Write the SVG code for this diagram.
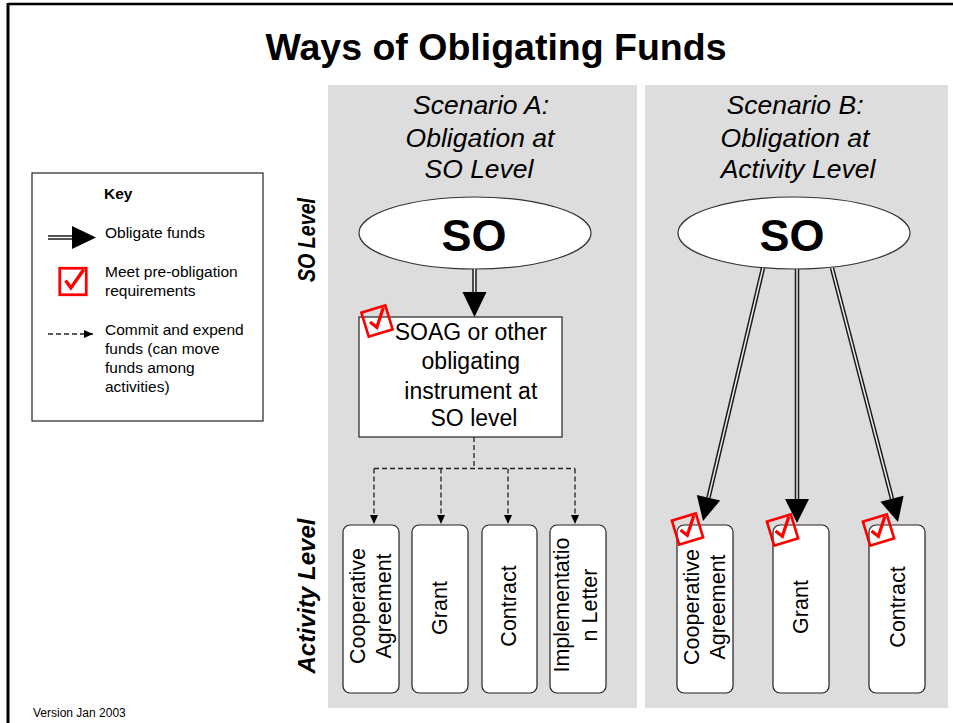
<svg xmlns="http://www.w3.org/2000/svg" width="953" height="723" viewBox="0 0 953 723">
<style>
.t{font-family:"Liberation Sans",Arial,sans-serif;fill:#000}
.panel{fill:#dddddd}
.node{fill:#fff;stroke:#222;stroke-width:1.2}
.ell{fill:#fff;stroke:#333;stroke-width:1.2}
.sh-o{stroke:#1a1a1a;stroke-width:4.5;fill:none}
.sh-i{stroke:#eeeeee;stroke-width:1.5;fill:none}
.head{fill:#000}
.dash{stroke:#222;stroke-width:1.3;stroke-dasharray:5 3;fill:none}
.box{font-size:21.5px}
.hd{font-size:26.5px;font-style:italic}
.key{font-size:15.5px}
</style>
<defs>
<marker id="dh" markerWidth="10" markerHeight="10" refX="9" refY="4" orient="auto" markerUnits="userSpaceOnUse">
<path d="M0,0 L9,4 L0,8 Z" fill="#000"/>
</marker>
<g id="chk">
<rect x="-12.5" y="-12.5" width="25" height="25" fill="none" stroke="#ff0000" stroke-width="2.6"/>
<path d="M-7,-1 L-2,6 L10,-11" fill="none" stroke="#ff0000" stroke-width="3.2" stroke-linejoin="miter"/>
</g>
</defs>

<g id="frame">
<line x1="8" y1="4" x2="953" y2="4" stroke="#000" stroke-width="2.5"/>
<line x1="8" y1="3" x2="8" y2="723" stroke="#000" stroke-width="3"/>
</g>

<text id="title" class="t" x="496" y="60" font-size="37.5" font-weight="bold" text-anchor="middle">Ways of Obligating Funds</text>

<rect id="panelA" class="panel" x="328" y="85" width="309" height="623"/>
<rect id="panelB" class="panel" x="645" y="85" width="303" height="623"/>

<g id="sideLabels">
<text class="t" transform="translate(315,240) rotate(-90)" font-size="24" font-weight="bold" font-style="italic" text-anchor="middle" textLength="84" lengthAdjust="spacingAndGlyphs">SO Level</text>
<text class="t" transform="translate(315,596) rotate(-90)" font-size="24" font-weight="bold" font-style="italic" text-anchor="middle" textLength="155" lengthAdjust="spacingAndGlyphs">Activity Level</text>
</g>

<g id="key">
<rect x="32" y="173" width="231" height="248" fill="#fff" stroke="#222" stroke-width="1.2"/>
<text class="t" x="104" y="199" font-size="15.5" font-weight="bold">Key</text>
<line class="sh-o" x1="48" y1="237.5" x2="73" y2="237.5"/>
<line x1="48" y1="237.5" x2="73" y2="237.5" stroke="#fff" stroke-width="1.5"/>
<polygon class="head" points="72,226 96,237.5 72,249"/>
<text class="t key" x="105" y="238">Obligate funds</text>
<use href="#chk" transform="translate(73,281.5) scale(1.06)"/>
<text class="t key" x="105" y="277">Meet pre-obligation</text>
<text class="t key" x="105" y="296">requirements</text>
<line class="dash" x1="48" y1="334" x2="93" y2="334" marker-end="url(#dh)"/>
<text class="t key" x="105" y="335">Commit and expend</text>
<text class="t key" x="105" y="354">funds (can move</text>
<text class="t key" x="105" y="373">funds among</text>
<text class="t key" x="105" y="392">activities)</text>
</g>

<g id="headA">
<text class="t hd" x="481" y="114" text-anchor="middle">Scenario A:</text>
<text class="t hd" x="480" y="147" text-anchor="middle">Obligation at</text>
<text class="t hd" x="479" y="178" text-anchor="middle">SO Level</text>
</g>
<g id="soA">
<ellipse class="ell" cx="475" cy="233" rx="116" ry="36"/>
<text class="t" x="474" y="251" font-size="45" font-weight="bold" text-anchor="middle">SO</text>
</g>
<g id="soag">
<rect class="node" x="359" y="317" width="203" height="120"/>
<text class="t" font-size="23" text-anchor="middle">
<tspan x="474" y="340">SOAG or other</tspan>
<tspan x="474" y="369">obligating</tspan>
<tspan x="474" y="399">instrument at</tspan>
<tspan x="474" y="426">SO level</tspan>
</text>
<use href="#chk" transform="translate(377,321) rotate(-17)"/>
</g>
<g id="a-coop">
<rect class="node" x="343" y="525" width="56" height="168" rx="7"/>
<text class="t box" transform="translate(371,606) rotate(-90)" text-anchor="middle"><tspan x="0" y="-6">Cooperative</tspan><tspan x="0" y="20">Agreement</tspan></text>
</g>
<g id="a-grant">
<rect class="node" x="412" y="525" width="56" height="168" rx="7"/>
<text class="t box" transform="translate(440,608) rotate(-90)" text-anchor="middle" y="7">Grant</text>
</g>
<g id="a-contract">
<rect class="node" x="482" y="525" width="55" height="168" rx="7"/>
<text class="t box" transform="translate(509.5,606) rotate(-90)" text-anchor="middle" y="6">Contract</text>
</g>
<g id="a-impl">
<rect class="node" x="550" y="525" width="56" height="168" rx="7"/>
<text class="t box" transform="translate(578,605) rotate(-90)" text-anchor="middle"><tspan x="0" y="-9">Implementatio</tspan><tspan x="0" y="19">n Letter</tspan></text>
</g>

<g id="headB">
<text class="t hd" x="795" y="114" text-anchor="middle">Scenario B:</text>
<text class="t hd" x="795" y="147" text-anchor="middle">Obligation at</text>
<text class="t hd" x="798" y="178" text-anchor="middle">Activity Level</text>
</g>
<g id="soB">
<ellipse class="ell" cx="794" cy="233" rx="116" ry="36"/>
<text class="t" x="792" y="251" font-size="45" font-weight="bold" text-anchor="middle">SO</text>
</g>
<g id="b-coop">
<rect class="node" x="677" y="525" width="56" height="168" rx="7"/>
<text class="t box" transform="translate(705,607) rotate(-90)" text-anchor="middle"><tspan x="0" y="-6">Cooperative</tspan><tspan x="0" y="20">Agreement</tspan></text>
</g>
<g id="b-grant">
<rect class="node" x="773" y="525" width="56" height="168" rx="7"/>
<text class="t box" transform="translate(801,607) rotate(-90)" text-anchor="middle" y="7">Grant</text>
</g>
<g id="b-contract">
<rect class="node" x="869" y="525" width="56" height="168" rx="7"/>
<text class="t box" transform="translate(897,607) rotate(-90)" text-anchor="middle" y="8">Contract</text>
</g>

<g id="connectors">
<line class="sh-o" x1="474.5" y1="269" x2="474.5" y2="293"/>
<line class="sh-i" x1="474.5" y1="269" x2="474.5" y2="293"/>
<polygon class="head" points="462.5,292 486.5,292 474.5,317"/>

<path class="dash" d="M474,437 V468.5 M374,468.5 H575"/>
<line class="dash" x1="374" y1="468.5" x2="374" y2="524" marker-end="url(#dh)"/>
<line class="dash" x1="441" y1="468.5" x2="441" y2="524" marker-end="url(#dh)"/>
<line class="dash" x1="508" y1="468.5" x2="508" y2="524" marker-end="url(#dh)"/>
<line class="dash" x1="575" y1="468.5" x2="575" y2="524" marker-end="url(#dh)"/>

<line class="sh-o" x1="763" y1="268" x2="708.5" y2="497.6"/>
<line class="sh-i" x1="763" y1="268" x2="708.5" y2="497.6"/>
<polygon class="head" points="720.2,500.4 696.8,494.9 703,521"/>

<line class="sh-o" x1="797" y1="269" x2="797" y2="500"/>
<line class="sh-i" x1="797" y1="269" x2="797" y2="500"/>
<polygon class="head" points="785,499 809,499 797,523"/>

<line class="sh-o" x1="832" y1="268" x2="892" y2="498.8"/>
<line class="sh-i" x1="832" y1="268" x2="892" y2="498.8"/>
<polygon class="head" points="903.6,495.8 880.4,501.8 898,522"/>
</g>

<g id="checksB">
<use href="#chk" transform="translate(687.5,529) rotate(-17)"/>
<use href="#chk" transform="translate(782.5,530) rotate(-17)"/>
<use href="#chk" transform="translate(878.5,530) rotate(-17)"/>
</g>

<text id="version" class="t" x="33" y="717" font-size="12">Version Jan 2003</text>
</svg>
